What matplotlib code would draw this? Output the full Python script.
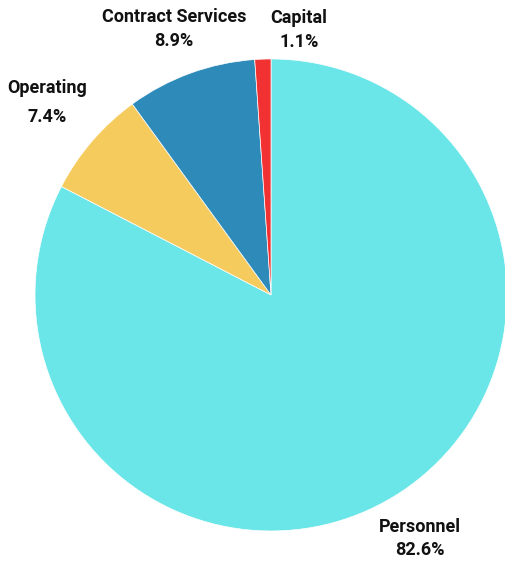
import numpy as np
import matplotlib.pyplot as plt

categorias = ["Personnel", "Operating", "Contract Services", "Capital"]
valores = [82.6, 7.4, 8.9, 1.1]
cores = ["#6AE5E8", "#F5CB5E", "#2E8BB9", "#F23232"]

fig = plt.figure(figsize=(5.06, 5.61), dpi=100)
ax = fig.add_axes([0.0692, 0.0535, 0.9328, 0.8414])

wedges, _ = ax.pie(valores, colors=cores, startangle=90, counterclock=False,
                   radius=1.0, wedgeprops=dict(edgecolor="white", linewidth=0.5))
ax.set_xlim(-1, 1)
ax.set_ylim(-1, 1)

# distancia do rotulo, ajuste de angulo (Capital empurrado pra direita) e espacamento
dist = [1.21, 1.25, 1.2, 1.13]
ajuste = [0, 0, 0, -8]
espaco = [1.35, 1.75, 1.45, 1.4]
for w, nome, v, d, a, e in zip(wedges, categorias, valores, dist, ajuste, espaco):
    ang = np.deg2rad((w.theta1 + w.theta2) / 2 + a)
    ax.text(d * np.cos(ang), d * np.sin(ang), f"{nome}\n{v:.1f}%",
            ha="center", va="center", fontsize=13, fontweight="bold",
            family="Roboto", linespacing=e, color="#111111")

fig.savefig("out.png", dpi=100)
